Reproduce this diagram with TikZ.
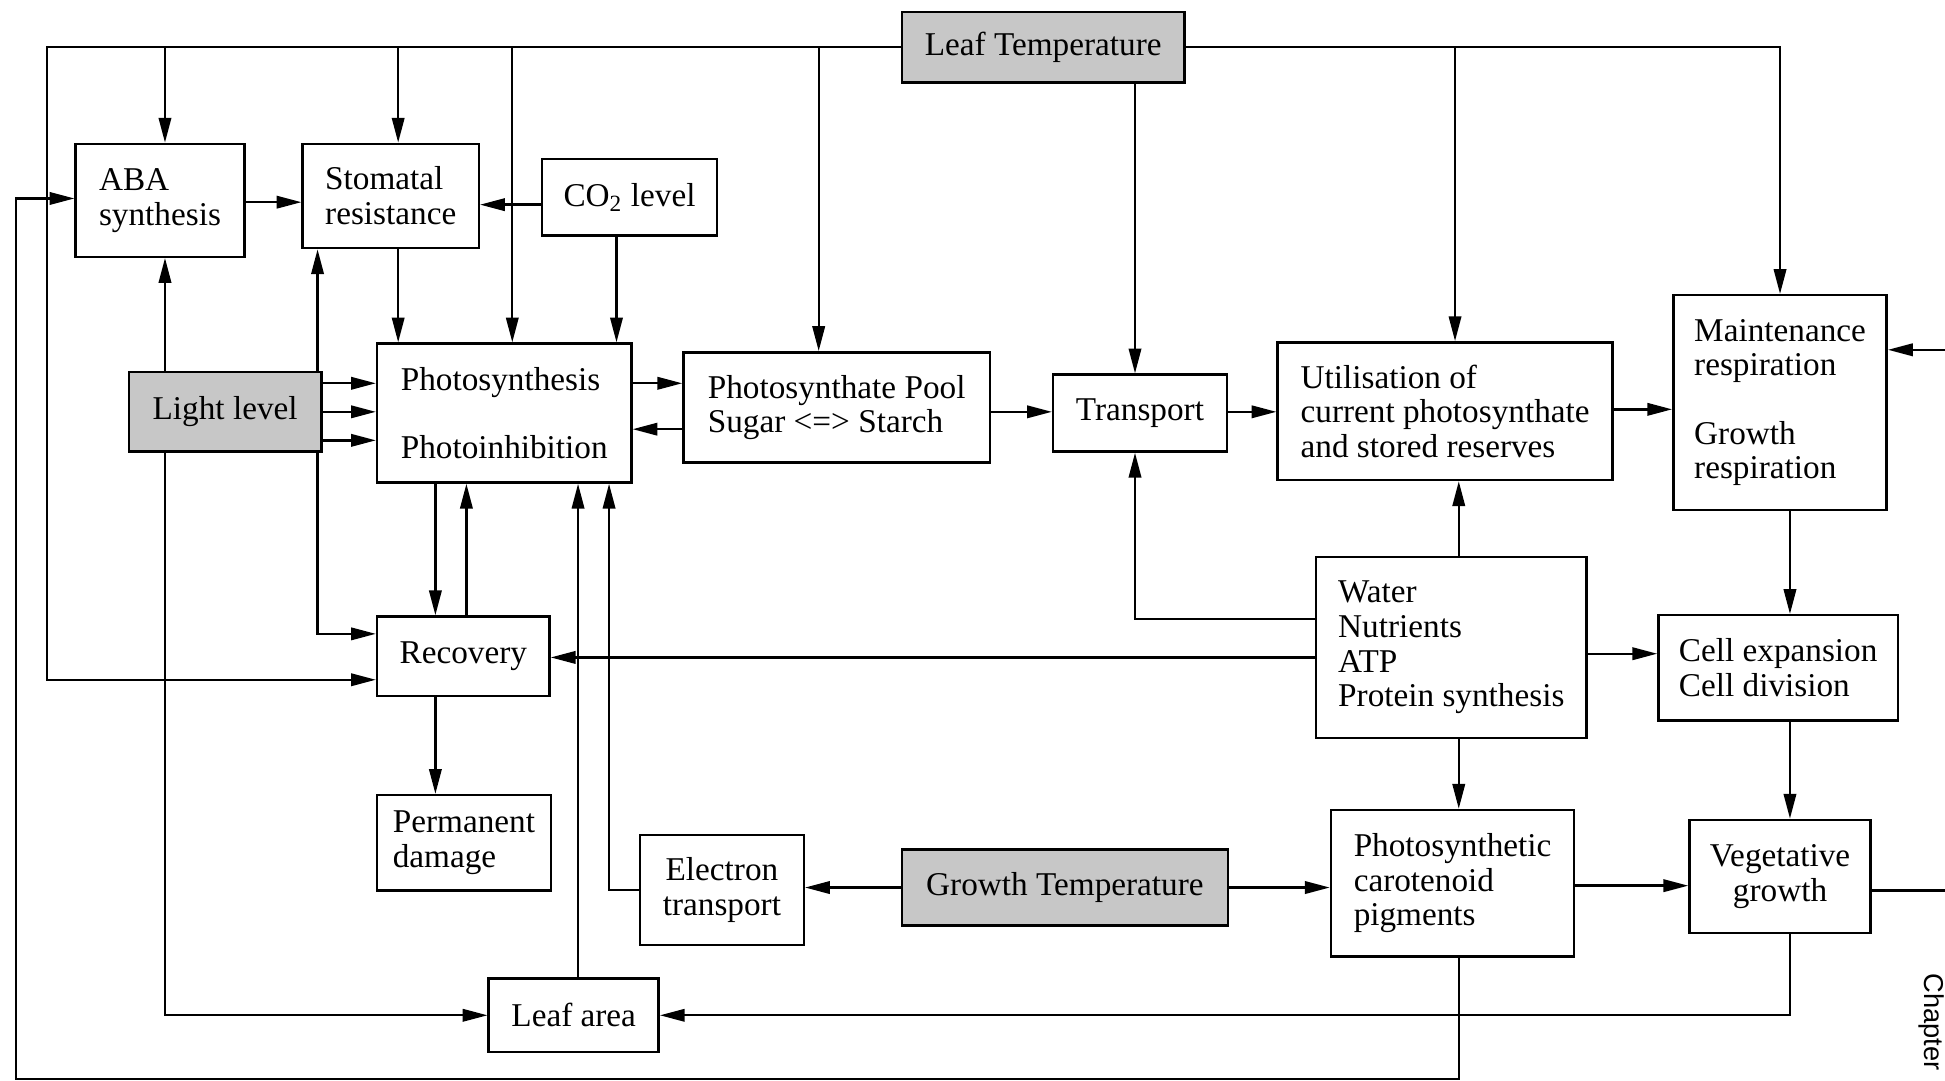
\documentclass[tikz,border=0pt]{standalone}
\usepackage{fontspec}
\setmainfont{Liberation Serif}
\newfontfamily\sidefont{Liberation Sans}
\usetikzlibrary{arrows.meta}
\begin{document}
\begin{tikzpicture}[x=0.5pt,y=-0.5pt,
  font=\fontsize{13.4}{14}\selectfont,
  line width=0.95pt,
  box/.style={draw, line width=1pt, inner sep=0pt, align=left},
  cbox/.style={box, align=center},
  shaded/.style={cbox, fill=black!22},
  arr/.style={-{Triangle[length=10pt,width=5pt]}},
  ]
\useasboundingbox (0,0) rectangle (1568,871);

% ---------- boxes ----------
\node[shaded, minimum width=114pt, minimum height=28.5pt] (lt) at (841,38) {Leaf Temperature};
\node[box, minimum width=68pt, minimum height=45.5pt] (aba) at (129,161.5) {ABA\\synthesis};
\node[box, minimum width=71pt, minimum height=42pt] (st) at (315,158) {Stomatal\\resistance};
\node[cbox, minimum width=70.5pt, minimum height=31pt] (co) at (507.5,159) {CO\textsubscript{2} level};
\node[shaded, minimum width=77.5pt, minimum height=32pt] (li) at (181.5,332) {Light level};
\node[box, minimum width=102.5pt, minimum height=56pt] (ph) at (406.5,333) {Photosynthesis\\[13.5pt]Photoinhibition};
\node[box, minimum width=123.5pt, minimum height=44.5pt] (pool) at (674.5,328.5) {Photosynthate Pool\\Sugar <=> Starch};
\node[cbox, minimum width=70pt, minimum height=31pt] (tr) at (919,333) {Transport};
\node[box, minimum width=135pt, minimum height=55.5pt] (ut) at (1165,331.5) {Utilisation of\\current photosynthate\\and stored reserves};
\node[box, minimum width=86pt, minimum height=86.5pt] (rs) at (1435,324.5) {Maintenance\\respiration\\[13.5pt]Growth\\respiration};
\node[box, minimum width=109pt, minimum height=73pt] (wa) at (1170,522) {Water\\Nutrients\\ATP\\Protein synthesis};
\node[box, minimum width=96.5pt, minimum height=42.5pt] (ce) at (1433.5,538.5) {Cell expansion\\Cell division};
\node[cbox, minimum width=69.5pt, minimum height=32pt] (rec) at (373.5,529) {Recovery};
\node[box, minimum width=70pt, minimum height=38.5pt] (pd) at (374,679.5) {Permanent\\damage};
\node[cbox, minimum width=66pt, minimum height=44.5pt] (et) at (582,717.5) {Electron\\transport};
\node[shaded, minimum width=131.5pt, minimum height=30.5pt] (gt) at (858.5,715.5) {Growth Temperature};
\node[box, minimum width=98pt, minimum height=59pt] (ca) at (1171,712) {Photosynthetic\\carotenoid\\pigments};
\node[cbox, minimum width=73pt, minimum height=45.5pt] (ve) at (1435,706.5) {Vegetative\\growth};
\node[cbox, minimum width=68.5pt, minimum height=29.5pt] (la) at (462.5,818.5) {Leaf area};

\node[font=\sidefont\fontsize{11}{12}\selectfont, rotate=-90, anchor=west, inner sep=0pt] (chap) at (1557,784) {Chapter};

% ---------- leaf temperature trunk ----------
\draw[arr] (lt.west) -| (38,548) -- (rec.west |- 0,548);
\draw[arr] (133,38) -- (133,0 |- aba.north);
\draw[arr] (321,38) -- (321,0 |- st.north);
\draw[arr] (413,38) -- (413,0 |- ph.north);
\draw[arr] (660,38) -- (660,0 |- pool.north);
\draw[arr] (1173,0 |- lt.east) -- (1173,0 |- ut.north);
\draw[arr] (lt.east) -| (rs.north);
\draw[arr] (915,0 |- lt.south) -- (915,0 |- tr.north);

% ---------- stomata and CO2 ----------
\draw[arr] (aba.east |- 0,163) -- (st.west |- 0,163);
\draw[arr] (co.west |- 0,165) -- (st.east |- 0,165);
\draw[arr] (497,0 |- co.south) -- (497,0 |- ph.north);
\draw[arr] (321,0 |- st.south) -- (321,0 |- ph.north);

% ---------- light level ----------
\draw[arr] (133,0 |- li.north) -- (133,0 |- aba.south);
\draw[arr] (133,0 |- li.south) |- (la.west);
\draw[arr] (256,0 |- li.north) -- (256,0 |- st.south);
\draw[arr] (256,0 |- li.south) |- (rec.west |- 0,511);
\draw[arr] (li.east |- 0,309) -- (ph.west |- 0,309);
\draw[arr] (li.east |- 0,332) -- (ph.west |- 0,332);
\draw[arr] (li.east |- 0,355) -- (ph.west |- 0,355);

% ---------- photosynthesis block ----------
\draw[arr] (ph.east |- 0,309) -- (pool.west |- 0,309);
\draw[arr] (pool.west |- 0,346) -- (ph.east |- 0,346);
\draw[arr] (351,0 |- ph.south) -- (351,0 |- rec.north);
\draw[arr] (376,0 |- rec.north) -- (376,0 |- ph.south);
\draw[arr] (466,0 |- la.north) -- (466,0 |- ph.south);
\draw[arr] (et.west) -| (491,0 |- ph.south);
\draw[arr] (351,0 |- rec.south) -- (351,0 |- pd.north);

% ---------- carbon flow ----------
\draw[arr] (pool.east |- 0,332) -- (tr.west |- 0,332);
\draw[arr] (tr.east |- 0,332) -- (ut.west |- 0,332);
\draw[arr] (ut.east |- 0,330) -- (rs.west |- 0,330);

% ---------- water, nutrients, ATP ----------
\draw[arr] (wa.west |- 0,499) -| (915,0 |- tr.south);
\draw[arr] (wa.west |- 0,530) -- (rec.east |- 0,530);
\draw[arr] (1176,0 |- wa.north) -- (1176,0 |- ut.south);
\draw[arr] (wa.east |- 0,527) -- (ce.west |- 0,527);
\draw[arr] (1176,0 |- wa.south) -- (1176,0 |- ca.north);

% ---------- growth ----------
\draw[arr] (1443,0 |- rs.south) -- (1443,0 |- ce.north);
\draw[arr] (1443,0 |- ce.south) -- (1443,0 |- ve.north);
\draw[arr] (gt.west) -- (et.east |- gt.west);
\draw[arr] (gt.east) -- (ca.west |- gt.east);
\draw[arr] (ca.east |- 0,714) -- (ve.west |- 0,714);
\draw[arr] (ve.east |- 0,718) -- (1600,718) |- (rs.east |- 0,282);
\draw[arr] (1443,0 |- ve.south) |- (la.east);
\draw[arr] (1176,0 |- ca.south) -- (1176,870) -| (13,160) -- (aba.west |- 0,160);
\end{tikzpicture}
\end{document}
